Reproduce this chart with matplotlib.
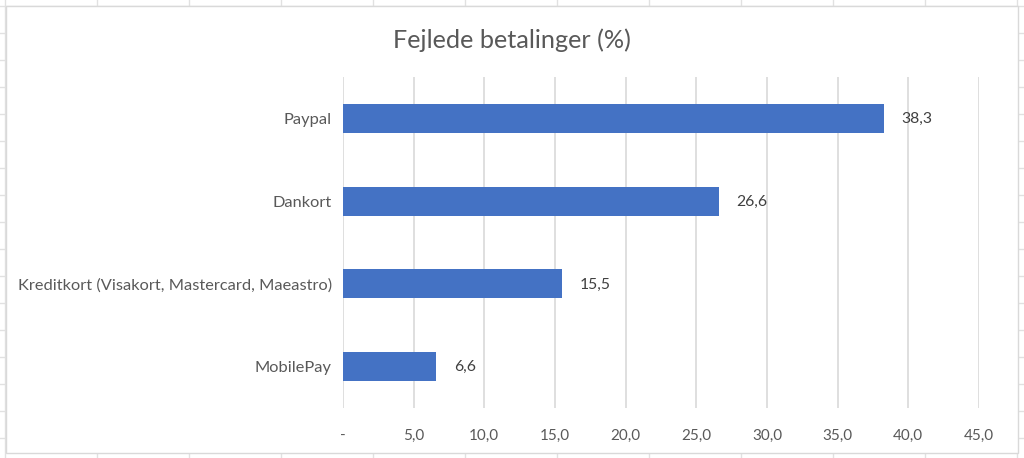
import matplotlib
matplotlib.use("Agg")
import matplotlib.pyplot as plt
from matplotlib.patches import Rectangle
from matplotlib.lines import Line2D

categories = ["MobilePay", "Kreditkort (Visakort, Mastercard, Maeastro)", "Dankort", "Paypal"]
values = [6.6, 15.5, 26.6, 38.3]
xticks = [0, 5, 10, 15, 20, 25, 30, 35, 40, 45]
xticklabels = ["-", "5,0", "10,0", "15,0", "20,0", "25,0", "30,0", "35,0", "40,0", "45,0"]
title = "Fejlede betalinger (%)"

plt.rcParams['font.family'] = ['Lato', 'DejaVu Sans']
W, H = 1024, 458
fig = plt.figure(figsize=(W / 100, H / 100), dpi=100)
fig.patch.set_facecolor("white")

# spreadsheet cell grid outside the chart (decoration)
grid_c = "#E1E1E1"
for xv in range(5, W, 92):
    fig.add_artist(Line2D([xv / W, xv / W], [0, 1], color=grid_c, lw=1, zorder=1))
for yv in range(6, H, 27):
    fig.add_artist(Line2D([0, 1], [1 - yv / H, 1 - yv / H], color=grid_c, lw=1, zorder=1))
# chart area
fig.add_artist(Rectangle((6 / W, 1 - 453 / H), (1018 - 6) / W, (453 - 6) / H,
                         transform=fig.transFigure, facecolor="white",
                         edgecolor="#D9D9D9", lw=1, zorder=2))

ax = fig.add_axes([343 / W, 1 - 408 / H, (979 - 343) / W, (408 - 77) / H])
ax.set_zorder(5)
ax.set_facecolor("none")
ypos = list(range(len(categories)))
bars = ax.barh(ypos, values, height=0.35, color="#4472C4", zorder=3)
ax.set_xlim(0, 45)
ax.set_ylim(-0.5, len(categories) - 0.5)
ax.set_xticks(xticks)
ax.set_xticklabels(xticklabels)
ax.set_yticks(ypos)
ax.set_yticklabels(categories)
ax.grid(axis="x", color="#D9D9D9", lw=1.2, zorder=0)
for s in ax.spines.values():
    s.set_visible(False)
ax.tick_params(axis="x", length=0, labelsize=11, colors="#595959", pad=15)
ax.tick_params(axis="y", length=0, labelsize=11.8, colors="#595959", pad=8)
for v, y in zip(values, ypos):
    ax.annotate(f"{v:.1f}".replace(".", ","), (v, y), xytext=(12.5, -0.5),
                textcoords="offset points", va="center", ha="left",
                fontsize=11.3, color="#404040")
fig.text(0.5, 1 - 40 / H, title, ha="center", va="center", fontsize=18.2, color="#595959", zorder=10)

fig.savefig("out.png", dpi=100)
